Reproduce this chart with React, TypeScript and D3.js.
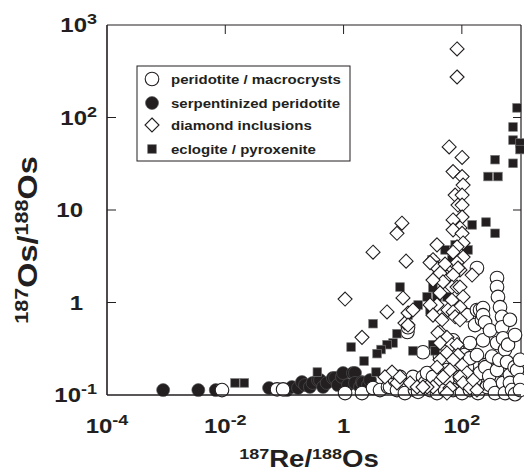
import React, { useEffect } from "react";
import * as d3 from "d3";

// 187Re/188Os (x) vs 187Os/188Os (y)
const peridotite: [number, number][] = [
  [0.0088, 0.113], [0.075, 0.115], [0.095, 0.115], [1.06, 0.105], [2.05, 0.105], [3.15, 0.119],
  [4.13, 0.113], [5.64, 0.122], [6.1, 0.122], [7.4, 0.145], [8.0, 0.113], [9.0, 0.157], [10.9, 0.105],
  [12, 0.48], [12.3, 0.54], [14.9, 0.157], [16.1, 0.113], [18.2, 0.108], [22, 0.29], [22, 0.157],
  [23.8, 0.135], [25.8, 0.173], [29, 0.113], [32.5, 0.157], [38, 0.105], [42.7, 0.135], [42.7, 0.26],
  [52, 0.113], [56, 0.186], [58, 0.15], [71, 0.113], [71, 0.39], [83, 0.33], [93, 0.157], [101, 0.105],
  [110, 0.27], [122, 0.73], [122, 0.2], [137, 0.365], [137, 0.25], [137, 0.113], [160, 0.145],
  [167, 0.57], [167, 0.145], [180, 0.27], [180, 2.36], [180, 0.83], [187, 0.105], [203, 0.173],
  [203, 0.83], [219, 0.65], [228, 0.87], [228, 0.73], [228, 0.39], [247, 0.61], [247, 0.21], [250, 0.2],
  [266, 0.122], [290, 0.16], [299, 0.5], [299, 0.128], [324, 0.26], [364, 0.105], [393, 1.84],
  [393, 1.47], [393, 0.365], [393, 0.186], [408, 1.15], [430, 0.24], [442, 0.89], [478, 0.7], [478, 0.54],
  [497, 0.41], [497, 0.135], [537, 0.31], [537, 0.105], [580, 0.227], [603, 0.35], [650, 0.65],
  [650, 0.165], [650, 0.135], [705, 0.113], [780, 0.2], [792, 0.445], [792, 0.102], [857, 0.186],
  [962, 0.24], [962, 0.145], [962, 0.113],
];

const serpentinized: [number, number][] = [
  [0.00089, 0.113], [0.0035, 0.113], [0.0069, 0.113], [0.055, 0.119], [0.11, 0.113], [0.134, 0.122],
  [0.17, 0.119], [0.198, 0.138], [0.223, 0.128], [0.27, 0.122], [0.3, 0.135], [0.37, 0.145],
  [0.4, 0.145], [0.45, 0.122], [0.52, 0.135], [0.66, 0.153], [0.72, 0.153], [0.8, 0.128],
  [0.94, 0.157], [0.98, 0.173], [1.19, 0.128], [1.44, 0.173], [1.56, 0.173], [1.56, 0.135],
  [1.9, 0.122], [2.05, 0.138], [2.13, 0.135], [2.59, 0.128], [2.8, 0.145],
];

const diamondInclusions: [number, number][] = [
  [83, 551], [83, 274], [61, 48], [101, 37], [71, 26], [101, 23], [105, 18.6], [77, 14.5],
  [101, 14.5], [86, 11.3], [101, 11.3], [101, 8.4], [71, 7.8], [93, 6.4], [71, 6.1], [101, 5.6],
  [105, 4.4], [83, 4.0], [71, 3.5], [105, 3.1], [83, 2.7], [93, 2.25], [86, 2.36], [149, 1.98],
  [56, 2.25], [56, 1.89], [71, 1.98], [68, 1.47], [83, 1.47], [93, 1.47], [105, 1.15], [68, 1.06],
  [93, 0.89], [58, 0.83], [71, 0.79], [77, 0.7], [93, 0.65], [38, 4.2], [32.5, 2.9], [38, 2.36],
  [29, 2.7], [52, 2.6], [42.7, 2.08], [48, 1.67], [32.5, 1.75], [42.7, 1.27], [38, 0.94], [29, 0.94],
  [32.5, 0.73], [46, 0.65], [42.7, 0.48], [39.5, 0.47], [56, 0.42], [42.7, 0.365], [68, 0.35],
  [83, 0.35], [56, 0.285], [86, 0.27], [42.7, 0.24], [71, 0.24], [101, 0.21], [38, 0.2], [63, 0.186],
  [122, 0.173], [48, 0.157], [93, 0.157], [105, 0.135], [32.5, 0.122], [25.8, 0.122], [63, 0.119],
  [137, 0.119], [155, 0.145], [180, 0.113], [56, 0.105], [13.3, 0.135], [17.5, 0.122], [22, 0.122],
  [8.0, 0.135], [6.6, 0.177], [5.0, 0.157], [9.0, 0.157], [1.06, 1.09], [3.15, 3.5], [8.0, 5.6],
  [9.7, 7.2], [11.4, 2.8], [5.43, 0.79], [2.05, 0.42], [10.1, 1.12], [10.9, 0.6], [12.3, 0.77],
  [14.9, 0.83], [12.3, 0.57],
];

const eclogite: [number, number][] = [
  [857, 127], [733, 79], [733, 57], [962, 53], [962, 45], [733, 32], [364, 35], [277, 23], [408, 23],
  [256, 7.4], [364, 5.6], [149, 6.9], [127, 3.7], [77, 4.2], [52, 3.7], [31.3, 2.9], [68, 2.9],
  [32.5, 1.44], [25.8, 1.15], [38, 1.15], [56, 1.15], [29, 0.83], [18.2, 0.94], [9.0, 1.47],
  [8.0, 0.46], [6.85, 0.365], [5.43, 0.35], [4.3, 0.31], [3.68, 0.28], [3.15, 0.59], [1.34, 0.33],
  [2.22, 0.233], [14.9, 0.3], [0.36, 0.177], [3.54, 0.177], [12.3, 0.73], [32.5, 0.35], [35.2, 0.3],
  [0.0146, 0.135], [0.021, 0.135],
];

const legendLabels = [
  "peridotite / macrocrysts",
  "serpentinized peridotite",
  "diamond inclusions",
  "eclogite / pyroxenite",
];

const xTickValues = [1e-4, 1e-2, 1, 1e2];
const xTickLabels: [string, string][] = [["10", "-4"], ["10", "-2"], ["1", ""], ["10", "2"]];
const xInnerTicks = [1e-2, 1, 1e2];
const yTickValues = [0.1, 1, 10, 100, 1000];
const yTickLabels: [string, string][] = [["10", "-1"], ["1", ""], ["10", ""], ["10", "2"], ["10", "3"]];
const yInnerTicks = [1, 10, 100];

const FONT = "'Liberation Sans', Arial, Helvetica, sans-serif";
const SX = 1.2;

const L = 107, R = 521, T = 25, B = 395;
const x = d3.scaleLog().domain([1e-4, 1e3]).range([L, R]);
const y = d3.scaleLog().domain([0.1, 1000]).range([B, T]);

function Sup({ tx, ty, base, exp, anchor, size, supSize, rise }: any) {
  const tr = `translate(${tx},${ty}) scale(${SX},1)`;
  return (
    <text transform={tr} textAnchor={anchor} fontSize={size} fontWeight="bold" fontFamily={FONT} fill="#231f20">
      {base}
      {exp ? <tspan fontSize={supSize} dy={-rise}>{exp}</tspan> : null}
    </text>
  );
}

function Marker({ kind, cx, cy }: { kind: number; cx: number; cy: number }) {
  if (kind === 0) return <circle cx={cx} cy={cy} r={6.8} fill="#fff" stroke="#231f20" strokeWidth={1.1} />;
  if (kind === 1) return <circle cx={cx} cy={cy} r={6.5} fill="#231f20" stroke="#555" strokeWidth={0.6} />;
  if (kind === 2) {
    const s = 7;
    return (
      <path d={`M${cx},${cy - s}L${cx + s},${cy}L${cx},${cy + s}L${cx - s},${cy}Z`} fill="#fff" stroke="#231f20" strokeWidth={1.1} />
    );
  }
  const h = 4.3;
  return <rect x={cx - h} y={cy - h} width={2 * h} height={2 * h} fill="#231f20" stroke="#777" strokeWidth={0.7} />;
}

export default function App() {
  useEffect(() => {
    document.body.style.margin = "0";
  }, []);
  const series = [serpentinized, peridotite, eclogite, diamondInclusions];
  const kinds = [1, 0, 3, 2];
  const legendY = [79, 103, 125, 149];
  return (
    <svg width={524} height={472} style={{ position: "absolute", left: 0, top: 0, background: "#fff" }}>
      <rect x={0} y={0} width={524} height={472} fill="#fff" />
      <line x1={L} y1={T} x2={R} y2={T} stroke="#231f20" strokeWidth={1.2} />
      <line x1={R} y1={T} x2={R} y2={B} stroke="#231f20" strokeWidth={1.2} />
      {xInnerTicks.map((v, i) => (
        <line key={"xt" + i} x1={x(v)} x2={x(v)} y1={T} y2={T + 9} stroke="#231f20" strokeWidth={1} />
      ))}
      {yInnerTicks.map((v, i) => (
        <g key={"yt" + i}>
          <line x1={L} x2={L + 9} y1={y(v)} y2={y(v)} stroke="#231f20" strokeWidth={1} />
          <line x1={R - 8} x2={R} y1={y(v)} y2={y(v)} stroke="#231f20" strokeWidth={1} />
        </g>
      ))}
      {series.map((s, si) =>
        s.map((d, i) => <Marker key={si + "-" + i} kind={kinds[si]} cx={x(d[0])} cy={y(d[1])} />)
      )}
      <line x1={L} y1={T} x2={L} y2={B} stroke="#231f20" strokeWidth={1.6} />
      <line x1={L} y1={B} x2={R} y2={B} stroke="#231f20" strokeWidth={1.6} />
      <rect x={137} y={66} width={213} height={95} fill="#fff" stroke="#231f20" strokeWidth={1} />
      {legendLabels.map((lab, i) => (
        <g key={"lg" + i}>
          <Marker kind={i} cx={152} cy={legendY[i]} />
          <text
            transform={`translate(171,${legendY[i] + 4.5}) scale(${SX},1)`}
            fontSize={12.5}
            fontWeight="bold"
            fontFamily={FONT}
            fill="#231f20"
          >
            {lab}
          </text>
        </g>
      ))}
      {xTickValues.map((v, i) => (
        <Sup key={"xl" + i} tx={x(v)} ty={433} base={xTickLabels[i][0]} exp={xTickLabels[i][1]} anchor="middle" size={20} supSize={15} rise={8} />
      ))}
      {yTickValues.map((v, i) => (
        <Sup
          key={"yl" + i}
          tx={yTickLabels[i][1] ? 97 : 83}
          ty={y(v) + 7}
          base={yTickLabels[i][0]}
          exp={yTickLabels[i][1]}
          anchor="end"
          size={20}
          supSize={15}
          rise={8}
        />
      ))}
      <text transform={`translate(309,467) scale(${SX},1)`} textAnchor="middle" fontWeight="bold" fontFamily={FONT} fill="#231f20">
        <tspan fontSize={15} dy={-8}>187</tspan>
        <tspan fontSize={23} dy={8}>Re/</tspan>
        <tspan fontSize={15} dy={-8}>188</tspan>
        <tspan fontSize={23} dy={8}>Os</tspan>
      </text>
      <text transform={`translate(37,240) rotate(-90) scale(${SX},1)`} textAnchor="middle" fontWeight="bold" fontFamily={FONT} fill="#231f20">
        <tspan fontSize={18} dy={-9}>187</tspan>
        <tspan fontSize={27} dy={9}>Os/</tspan>
        <tspan fontSize={18} dy={-9}>188</tspan>
        <tspan fontSize={27} dy={9}>Os</tspan>
      </text>
    </svg>
  );
}
